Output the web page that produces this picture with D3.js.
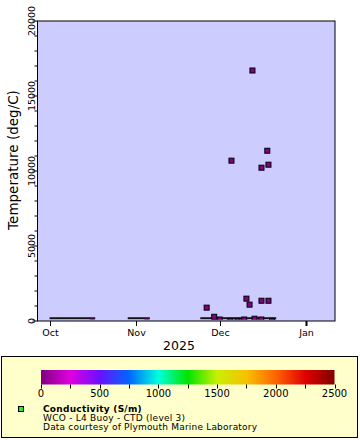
<!DOCTYPE html>
<html><head><meta charset="utf-8">
<script src="https://cdn.jsdelivr.net/npm/d3@7"></script>
<style>body{margin:0;background:#fff}svg{display:block;font-family:"DejaVu Sans",sans-serif}</style>
</head><body><svg id="c" width="360" height="440"></svg>
<script>
// ---- data ----
const pointTimes = ["2025-12-12T18:00","2025-12-05T05:00","2025-12-18T02:00","2025-12-16T00:00","2025-12-18T12:00",
  "2025-11-26T07:00","2025-12-10T14:00","2025-12-11T17:00","2025-12-16T00:00","2025-12-18T12:00",
  "2025-11-29T00:00","2025-12-01T00:00","2025-12-04T19:00","2025-12-07T10:00","2025-12-09T19:00",
  "2025-12-13T12:00","2025-12-15T22:00","2025-12-19T19:00"];
const pointTemps = [16700,10690,11350,10220,10420, 890,1490,1090,1350,1350, 280,100,15,15,100, 150,100,15];
const pointCond  = [4.2,4.1,4.3,4.2,4.2, 4.1,4.2,4.1,4.2,4.3, 4.0,4.1,4.1,4.2,4.1, 4.2,4.1,4.2];
// dense low-value runs (start, end) with value and conductivity of the last sample
const runStarts = ["2025-10-01T22:00","2025-10-30T00:00","2025-11-25T02:00"];
const runEnds   = ["2025-10-16T04:00","2025-11-04T19:00","2025-12-20T05:00"];
const runTemps  = [150,150,150];
const runEndCond = [230,230,230];
const xTickMonths = ["2025-10-01","2025-11-01","2025-12-01","2026-01-01"];
const xTickLabels = ["Oct","Nov","Dec","Jan"];
const yTicks = [0,5000,10000,15000,20000];
const cbStops = [0,250,500,750,1000,1250,1500,1750,2000,2250,2500];
const cbColors = ["#800080","#e000e0","#6a10ff","#0066ff","#00ffdd","#00e400","#c8f000","#f8c000","#ff6400","#e00000","#800000"];
const cbLabels = [0,500,1000,1500,2000,2500];

const svg = d3.select("#c");
const P = {l:37.5, r:335, t:21, b:321};
const parse = d3.isoParse;
const x = d3.scaleTime().domain([parse("2025-09-26T12:00"), parse("2026-01-11T10:00")]).range([P.l, P.r]);
const y = d3.scaleLinear().domain([0,20000]).range([P.b, P.t]);
const col = d3.scaleLinear().domain(cbStops).range(cbColors).clamp(true);

svg.append("rect").attr("x",P.l).attr("y",P.t).attr("width",P.r-P.l).attr("height",P.b-P.t).attr("fill","#ccccff");

const defs = svg.append("defs");
defs.append("clipPath").attr("id","clip").append("rect").attr("x",P.l).attr("y",P.t).attr("width",P.r-P.l).attr("height",P.b-P.t-1.2);
const g = svg.append("g").attr("clip-path","url(#clip)");

const S = 5;
// runs
runStarts.forEach((s,i)=>{
  const x0 = x(parse(s)), x1 = x(parse(runEnds[i]));
  g.append("rect").attr("x",x0-S/2-0.5).attr("y",y(runTemps[i])-S/2+1).attr("width",x1-x0+S+1).attr("height",2)
    .attr("fill","#111");
  g.append("rect").attr("x",x1-S/2).attr("y",y(runTemps[i])-S/2+2.5).attr("width",S).attr("height",1.2)
    .attr("fill",col(runEndCond[i]));
});
// points
const pts = pointTimes.map((t,i)=>({t:parse(t), v:pointTemps[i], c:pointCond[i]}));
g.selectAll("rect.p").data(pts).enter().append("rect").attr("class","p")
  .attr("x",d=>x(d.t)-S/2).attr("y",d=>y(d.v)-S/2).attr("width",S).attr("height",S)
  .attr("fill",d=>col(d.c)).attr("stroke","#000").attr("stroke-width",1);

// frame
svg.append("rect").attr("x",P.l).attr("y",P.t).attr("width",P.r-P.l).attr("height",P.b-P.t)
  .attr("fill","none").attr("stroke","#000").attr("stroke-width",1);

// y axis
const yAxis = svg.append("g");
d3.range(0,20001,1000).forEach(v=>{
  const major = v%5000===0;
  yAxis.append("line").attr("x1",P.l).attr("x2",P.l-(major?5:3)).attr("y1",y(v)).attr("y2",y(v)).attr("stroke","#000");
});
yTicks.forEach(v=>{
  yAxis.append("text").attr("transform",`translate(34.5,${y(v)}) rotate(-90)`).attr("text-anchor","middle")
    .attr("font-size",9.5).text(v);
});
svg.append("text").attr("transform","translate(18,160) rotate(-90)").attr("text-anchor","middle")
  .attr("font-size",13.5).text("Temperature (deg/C)");

// x axis
xTickMonths.forEach((m,i)=>{
  const xx = Math.round(x(parse(m)))+0.5;
  svg.append("line").attr("x1",xx).attr("x2",xx).attr("y1",P.b).attr("y2",P.b+5).attr("stroke","#000")
    .attr("stroke-width", m.startsWith("2026-01")?2:1);
  svg.append("text").attr("x",xx).attr("y",336).attr("text-anchor","middle").attr("font-size",9.5).text(xTickLabels[i]);
});
svg.append("text").attr("x",179).attr("y",350).attr("text-anchor","middle").attr("font-size",12.5).text("2025");

// legend box
svg.append("rect").attr("x",1.5).attr("y",356.5).attr("width",356).attr("height",81).attr("fill","#ffffcc").attr("stroke","#000");
const cb = d3.scaleLinear().domain([0,2500]).range([41,334.5]);
const grad = defs.append("linearGradient").attr("id","cbg");
d3.range(0,2501,50).forEach(v=>grad.append("stop").attr("offset",(v/2500*100)+"%").attr("stop-color",col(v)));
svg.append("rect").attr("x",cb(0)).attr("y",370).attr("width",cb(2500)-cb(0)).attr("height",14.5).attr("fill","url(#cbg)");
d3.range(0,2501,250).forEach(v=>{
  svg.append("line").attr("x1",Math.round(cb(v))+0.5).attr("x2",Math.round(cb(v))+0.5).attr("y1",384.5).attr("y2",388.5).attr("stroke","#000");
});
cbLabels.forEach(v=>svg.append("text").attr("x",cb(v)).attr("y",397).attr("text-anchor","middle").attr("font-size",10).text(v));
svg.append("rect").attr("x",18.5).attr("y",406.5).attr("width",5).attr("height",5).attr("fill","#22ee22").attr("stroke","#000");
svg.append("text").attr("x",43).attr("y",411.5).attr("font-size",9).attr("font-weight","bold").attr("letter-spacing",0.25).text("Conductivity (S/m)");
svg.append("text").attr("x",43).attr("y",420.5).attr("font-size",9).attr("letter-spacing",0.25).text("WCO - L4 Buoy - CTD (level 3)");
svg.append("text").attr("x",43).attr("y",429.5).attr("font-size",9).attr("letter-spacing",0.2).text("Data courtesy of Plymouth Marine Laboratory");
</script></body></html>
